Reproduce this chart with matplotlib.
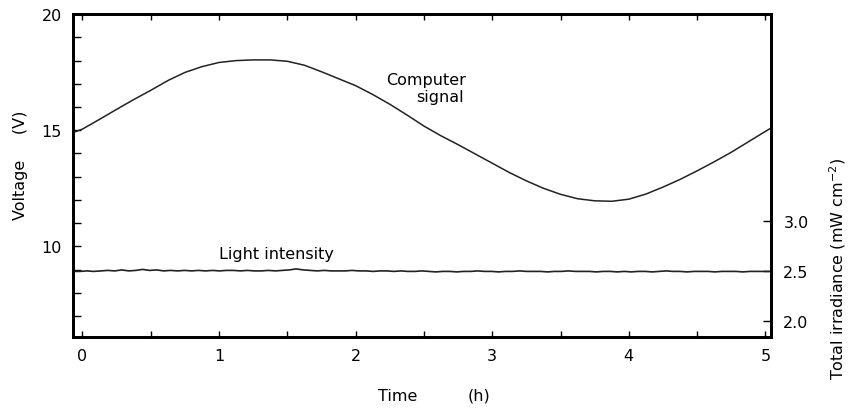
import numpy as np
import matplotlib.pyplot as plt
from matplotlib.ticker import MultipleLocator

plt.rcParams['font.family'] = ['DejaVu Sans']

# computer signal (voltage, V)
time_h = [-0.06, 0.0, 0.125, 0.25, 0.375, 0.5, 0.625, 0.75, 0.875, 1.0, 1.125, 1.25,
          1.375, 1.5, 1.625, 1.75, 1.875, 2.0, 2.125, 2.25, 2.375, 2.5, 2.625,
          2.75, 2.875, 3.0, 3.125, 3.25, 3.375, 3.5, 3.625, 3.75, 3.875, 4.0,
          4.125, 4.25, 4.375, 4.5, 4.625, 4.75, 4.875, 5.0, 5.04]
voltage = [14.92, 15.05, 15.47, 15.90, 16.32, 16.72, 17.14, 17.49, 17.74, 17.92,
           18.00, 18.03, 18.03, 17.97, 17.80, 17.52, 17.22, 16.92, 16.54, 16.12,
           15.66, 15.18, 14.76, 14.38, 13.98, 13.58, 13.18, 12.82, 12.50, 12.24,
           12.05, 11.96, 11.94, 12.03, 12.25, 12.55, 12.88, 13.25, 13.64, 14.05,
           14.50, 14.95, 15.09]

# light intensity trace (total irradiance, mW cm^-2)
light = [2.495, 2.495, 2.50, 2.495, 2.50, 2.505, 2.50, 2.51, 2.50, 2.505, 2.515, 2.505,
         2.51, 2.50, 2.505, 2.50, 2.505, 2.50, 2.505, 2.50, 2.505, 2.50, 2.505, 2.505,
         2.50, 2.505, 2.50, 2.50, 2.505, 2.50, 2.505, 2.51, 2.52, 2.51, 2.505, 2.50,
         2.505, 2.50, 2.50, 2.50, 2.505, 2.50, 2.50, 2.495, 2.50, 2.50, 2.495, 2.50,
         2.495, 2.495, 2.50, 2.495, 2.49, 2.495, 2.495, 2.49, 2.495, 2.495, 2.50, 2.495,
         2.495, 2.49, 2.495, 2.495, 2.50, 2.495, 2.495, 2.495, 2.49, 2.495, 2.495, 2.50,
         2.495, 2.495, 2.495, 2.49, 2.495, 2.495, 2.49, 2.495, 2.49, 2.495, 2.495, 2.49,
         2.495, 2.50, 2.495, 2.495, 2.49, 2.495, 2.495, 2.495, 2.49, 2.495, 2.495, 2.495,
         2.49, 2.495, 2.495, 2.495, 2.495]
light_t = np.linspace(-0.07, 5.04, len(light))

irr_ticks = [2.0, 2.5, 3.0]

fig = plt.figure(figsize=(8.48, 4.10), dpi=100)
ax = fig.add_axes([0.086, 0.176, 0.823, 0.787])

ax.plot(time_h, voltage, color='#222222', lw=1.1)
ax.set_xlim(-0.07, 5.04)
ax.set_ylim(6.1, 20.0)

ax.xaxis.set_major_locator(MultipleLocator(1))
ax.xaxis.set_minor_locator(MultipleLocator(0.5))
ax.yaxis.set_major_locator(MultipleLocator(5))
ax.yaxis.set_minor_locator(MultipleLocator(1))
ax.tick_params(which='both', direction='in', top=True, right=False,
               width=1.0, labelsize=11.5, colors='black')
ax.tick_params(which='major', length=6, pad=8)
ax.tick_params(which='minor', length=6)
ax.tick_params(axis='x', which='both', length=4)
for s in ax.spines.values():
    s.set_linewidth(2.0)

ax.text(2.22, 17.2, 'Computer', fontsize=11.5, va='center', ha='left')
ax.text(2.44, 16.45, 'signal', fontsize=11.5, va='center', ha='left')
ax.text(1.0, 9.7, 'Light intensity', fontsize=11.5, va='center', ha='left')

ax2 = ax.twinx()
ax2.plot(light_t, light, color='#222222', lw=1.2)
ax2.set_ylim(1.84, 5.07)
ax2.set_yticks(irr_ticks)
ax2.set_yticklabels(['2.0', '2.5', '3.0'])
ax2.tick_params(direction='in', length=6, width=1.0, pad=9, labelsize=11.5)
for s in ax2.spines.values():
    s.set_linewidth(2.0)

fig.text(0.024, 0.598, 'Voltage     (V)', rotation=90, fontsize=11.5,
         ha='center', va='center')
fig.text(0.446, 0.022, 'Time', fontsize=11.5, ha='left', va='baseline')
fig.text(0.551, 0.022, '(h)', fontsize=11.5, ha='left', va='baseline')
fig.text(0.988, 0.345, 'Total irradiance (mW cm$^{-2}$)', rotation=90,
         fontsize=11.5, ha='center', va='center')

fig.savefig('out.png', dpi=100)
